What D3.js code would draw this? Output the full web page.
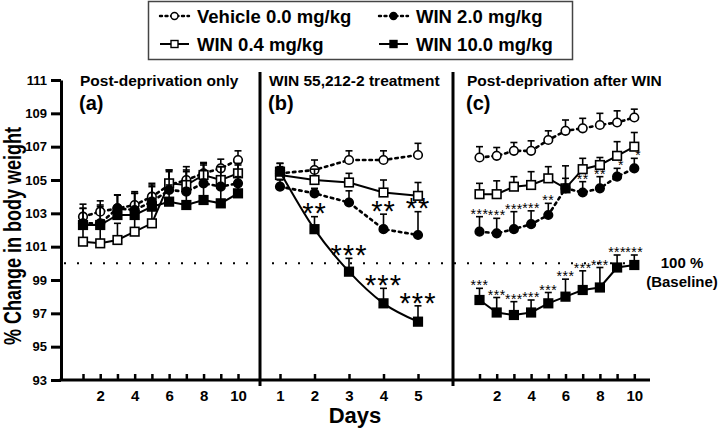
<!DOCTYPE html>
<html>
<head>
<meta charset="utf-8">
<script src="https://cdn.jsdelivr.net/npm/d3@7"></script>
<style>
  body { margin: 0; background: #fff; }
  svg { font-family: "Liberation Sans", Arial, sans-serif; font-weight: bold; }
</style>
</head>
<body>
<div id="chart"></div>
<script>
// series names (legend order)
const seriesNames = ['Vehicle 0.0 mg/kg', 'WIN 0.4 mg/kg', 'WIN 2.0 mg/kg', 'WIN 10.0 mg/kg']
const panelTitles = ['Post-deprivation only', 'WIN 55,212-2 treatment', 'Post-deprivation after WIN']
const panelLetters = ['(a)', '(b)', '(c)']
const yTicks = [93, 95, 97, 99, 101, 103, 105, 107, 109, 111]

const daysA = [1, 2, 3, 4, 5, 6, 7, 8, 9, 10]
const daysB = [1, 2, 3, 4, 5]
const daysC = [1, 2, 3, 4, 5, 6, 7, 8, 9, 10]

// (a) post-deprivation only
const aVeh    = [102.8, 103.1, 103.3, 103.5, 104.0, 104.7, 105.0, 105.4, 105.7, 106.2]
const aVehErr = [0.75, 0.65, 0.8, 0.8, 0.8, 0.9, 0.8, 0.65, 0.55, 0.55]
const aW04    = [101.3, 101.2, 101.4, 101.9, 102.4, 104.8, 104.7, 105.3, 105.0, 105.4]
const aW04Err = [0.9, 1.0, 1.0, 1.2, 1.3, 0.8, 0.9, 0.7, 0.8, 0.6]
const aW2     = [102.4, 102.4, 103.3, 103.2, 103.7, 104.4, 104.3, 104.8, 104.6, 104.8]
const aW2Err  = [0.9, 1.0, 0.8, 1.0, 0.9, 1.1, 1.2, 1.1, 1.2, 1.1]
const aW10    = [102.3, 102.3, 102.9, 102.9, 103.4, 103.7, 103.5, 103.8, 103.6, 104.2]
const aW10Err = [1.0, 1.2, 1.2, 1.3, 1.3, 1.0, 1.0, 1.0, 1.1, 1.0]

// (b) WIN treatment
const bVeh    = [105.4, 105.6, 106.2, 106.2, 106.5]
const bVehErr = [0.6, 0.6, 0.55, 0.55, 0.7]
const bW04    = [105.3, 105.0, 104.85, 104.25, 104.05]
const bW04Err = [0.5, 0.65, 0.55, 0.75, 0.8]
const bW2     = [104.6, 104.2, 103.65, 102.05, 101.7]
const bW2Err  = [0.4, 0.3, 0.7, 0.9, 1.4]
const bW10    = [105.5, 102.05, 99.5, 97.6, 96.5]
const bW10Err = [0.5, 0.75, 0.8, 0.9, 0.95]
const bW2Stars  = ['', '', '', '**', '**']
const bW10Stars = ['', '**', '***', '***', '***']

// (c) post-deprivation after WIN
const cVeh    = [106.35, 106.45, 106.75, 106.75, 107.4, 107.95, 108.1, 108.3, 108.45, 108.75]
const cVehErr = [0.65, 0.5, 0.5, 0.6, 0.55, 0.65, 0.6, 0.7, 0.7, 0.5]
const cW04    = [104.15, 104.15, 104.6, 104.7, 105.1, 104.5, 105.65, 105.9, 106.45, 107.0]
const cW04Err = [0.65, 0.8, 0.6, 0.8, 0.7, 1.35, 0.65, 0.45, 0.85, 0.85]
const cW2     = [101.9, 101.8, 102.05, 102.35, 102.9, 104.5, 104.25, 104.5, 105.2, 105.7]
const cW2Err  = [0.9, 0.9, 1.05, 0.8, 0.7, 0.6, 0.65, 0.7, 0.5, 0.6]
const cW10    = [97.8, 97.05, 96.9, 97.05, 97.6, 98.0, 98.4, 98.55, 99.75, 99.9]
const cW10Err = [0.7, 0.9, 0.8, 0.75, 0.65, 1.05, 1.15, 1.2, 0.75, 0.6]
const cW2Stars  = ['***', '***', '***', '***', '**', '', '**', '**', '*', '*']
const cW10Stars = ['***', '***', '***', '***', '***', '***', '***', '***', '***', '***']

const width = 720, height = 428

const svg = d3.select('#chart').append('svg')
    .attr('width', width)
    .attr('height', height)

const y = d3.scaleLinear().domain([93, 111]).range([380, 80])
const xA = d3.scaleLinear().domain([1, 10]).range([83, 238])
const xB = d3.scaleLinear().domain([1, 5]).range([280, 418])
const xC = d3.scaleLinear().domain([1, 10]).range([479.5, 634.3])

// series styles: dotted / solid, circle / square, open / filled
const styles = [
    {dash: '2.5,4', shape: 'circle', fill: '#fff'},
    {dash: null, shape: 'square', fill: '#fff'},
    {dash: '2.5,4', shape: 'circle', fill: '#000'},
    {dash: null, shape: 'square', fill: '#000'}
]

// baseline 100 %
svg.append('line')
    .attr('x1', 64).attr('x2', 648)
    .attr('y1', y(100)).attr('y2', y(100))
    .attr('stroke', '#000')
    .attr('stroke-width', 2)
    .attr('stroke-dasharray', '2,11')

svg.append('text').attr('x', 682).attr('y', y(100) + 5)
    .attr('text-anchor', 'middle').attr('font-size', 15).text('100 %')
svg.append('text').attr('x', 682).attr('y', y(100) + 24)
    .attr('text-anchor', 'middle').attr('font-size', 15).text('(Baseline)')

function drawPanel(x, days, means, errs, stars, starSize, starGap, curves){
    const g = svg.append('g')
    means.forEach((vals, si) => {
        const st = styles[si]
        const pts = days.map((d, i) => ({d, v: vals[i], e: errs[si][i]}))
        // error bars (upper only)
        const eb = g.append('g')
        eb.selectAll('line.bar').data(pts).enter().append('line')
            .attr('x1', p => x(p.d)).attr('x2', p => x(p.d))
            .attr('y1', p => y(p.v)).attr('y2', p => y(p.v + p.e))
            .attr('stroke', '#000').attr('stroke-width', 1.6)
        eb.selectAll('line.cap').data(pts).enter().append('line')
            .attr('x1', p => x(p.d) - 3.5).attr('x2', p => x(p.d) + 3.5)
            .attr('y1', p => y(p.v + p.e)).attr('y2', p => y(p.v + p.e))
            .attr('stroke', '#000').attr('stroke-width', 1.6)
        const line = d3.line().x(p => x(p.d)).y(p => y(p.v))
            .curve(curves && curves[si] ? curves[si] : d3.curveLinear)
        g.append('path').datum(pts)
            .attr('d', line)
            .attr('fill', 'none')
            .attr('stroke', '#000')
            .attr('stroke-width', st.dash ? 2.6 : 2)
            .attr('stroke-dasharray', st.dash)
            .attr('stroke-linecap', st.dash ? 'round' : 'butt')
        if (st.shape === 'circle'){
            g.selectAll(null).data(pts).enter().append('circle')
                .attr('cx', p => x(p.d)).attr('cy', p => y(p.v)).attr('r', 4.3)
                .attr('fill', st.fill).attr('stroke', '#000').attr('stroke-width', 1.6)
        } else {
            g.selectAll(null).data(pts).enter().append('rect')
                .attr('x', p => x(p.d) - 4.3).attr('y', p => y(p.v) - 4.3)
                .attr('width', 8.6).attr('height', 8.6)
                .attr('fill', st.fill).attr('stroke', '#000').attr('stroke-width', 1.6)
        }
        if (stars && stars[si]){
            g.selectAll(null).data(pts).enter().append('text')
                .attr('x', (p, i) => x(p.d) + (stars[si][i].length === 1 ? 4 : 0))
                .attr('y', p => y(p.v + p.e) - starGap + starSize * 0.58)
                .attr('text-anchor', 'middle')
                .attr('font-size', starSize)
                .attr('font-weight', 'normal')
                .attr('fill', '#000')
                .attr('letter-spacing', starSize > 15 ? 1 : 0.5)
                .text((p, i) => stars[si][i])
        }
    })
}

drawPanel(xA, daysA, [aVeh, aW04, aW2, aW10], [aVehErr, aW04Err, aW2Err, aW10Err])
drawPanel(xB, daysB, [bVeh, bW04, bW2, bW10], [bVehErr, bW04Err, bW2Err, bW10Err],
    [null, null, bW2Stars, bW10Stars], 29, 10, [null, null, null, d3.curveMonotoneX])
drawPanel(xC, daysC, [cVeh, cW04, cW2, cW10], [cVehErr, cW04Err, cW2Err, cW10Err],
    [null, null, cW2Stars, cW10Stars], 14, 6)

// y axis
const yAxis = svg.append('g')
    .attr('transform', 'translate(61,0)')
    .call(d3.axisLeft(y).tickValues(yTicks).tickSize(10).tickSizeOuter(0).tickPadding(4))
yAxis.select('.domain').attr('stroke-width', 3)
yAxis.selectAll('.tick line').attr('stroke-width', 3)
yAxis.selectAll('.tick text').attr('font-size', 13).attr('font-weight', 'bold')
    .attr('font-family', '"Liberation Sans", Arial, sans-serif')

// x axes
function xAxis(x, days, fmt){
    const g = svg.append('g')
        .attr('transform', 'translate(0,380)')
        .call(d3.axisBottom(x).tickValues(days).tickSizeInner(-6).tickSizeOuter(0).tickPadding(10).tickFormat(fmt))
    g.select('.domain').remove()
    g.selectAll('.tick line').attr('stroke-width', 2.5)
    g.selectAll('.tick text').attr('font-size', 15).attr('font-weight', 'bold')
        .attr('font-family', '"Liberation Sans", Arial, sans-serif')
}
xAxis(xA, daysA, d => d % 2 === 0 ? d : '')
xAxis(xB, daysB, d => d)
xAxis(xC, daysC, d => d % 2 === 0 ? d : '')

svg.append('line')
    .attr('x1', 59.5).attr('x2', 650)
    .attr('y1', 380).attr('y2', 380)
    .attr('stroke', '#000').attr('stroke-width', 3)

// panel dividers
;[260, 453].forEach(xv => {
    svg.append('line')
        .attr('x1', xv).attr('x2', xv)
        .attr('y1', 72).attr('y2', 386)
        .attr('stroke', '#000').attr('stroke-width', 3)
})

// titles
const titleX = [80, 269, 467]
panelTitles.forEach((t, i) => {
    svg.append('text').attr('x', titleX[i]).attr('y', 86)
        .attr('font-size', 15.5).text(t)
    svg.append('text').attr('x', titleX[i] - 1).attr('y', 110)
        .attr('font-size', 20).text(panelLetters[i])
})

// axis titles
svg.append('text')
    .attr('transform', 'translate(21,236) rotate(-90)')
    .attr('text-anchor', 'middle')
    .attr('font-size', 23)
    .attr('textLength', 218)
    .attr('lengthAdjust', 'spacingAndGlyphs')
    .text('% Change in body weight')

svg.append('text')
    .attr('x', 355).attr('y', 423)
    .attr('text-anchor', 'middle')
    .attr('font-size', 22)
    .text('Days')

// legend
const legend = svg.append('g')
legend.append('rect')
    .attr('x', 148.5).attr('y', 1.5)
    .attr('width', 424).attr('height', 58)
    .attr('fill', '#fff').attr('stroke', '#444').attr('stroke-width', 1.5)

const legX = [160, 160, 379, 379]
const legY = [16, 44, 16, 44]
const legOrder = [0, 1, 2, 3]
legOrder.forEach(si => {
    const st = styles[si]
    const lx = legX[si], ly = legY[si]
    const item = legend.append('g').attr('transform', `translate(${lx},${ly})`)
    item.append('line')
        .attr('x1', 0).attr('x2', 29).attr('y1', 0).attr('y2', 0)
        .attr('stroke', '#000')
        .attr('stroke-width', st.dash ? 2.4 : 2)
        .attr('stroke-dasharray', st.dash ? '2,3.5' : null)
        .attr('stroke-linecap', st.dash ? 'round' : 'butt')
    if (st.shape === 'circle'){
        item.append('circle').attr('cx', 14.5).attr('cy', 0).attr('r', 3.5)
            .attr('fill', st.fill).attr('stroke', '#000').attr('stroke-width', 1.4)
    } else {
        item.append('rect').attr('x', 11).attr('y', -3.5).attr('width', 7).attr('height', 7)
            .attr('fill', st.fill).attr('stroke', '#000').attr('stroke-width', 1.4)
    }
    item.append('text')
        .attr('x', 37).attr('y', 6.5)
        .attr('font-size', 18.5)
        .text(seriesNames[si])
})
</script>
</body>
</html>
